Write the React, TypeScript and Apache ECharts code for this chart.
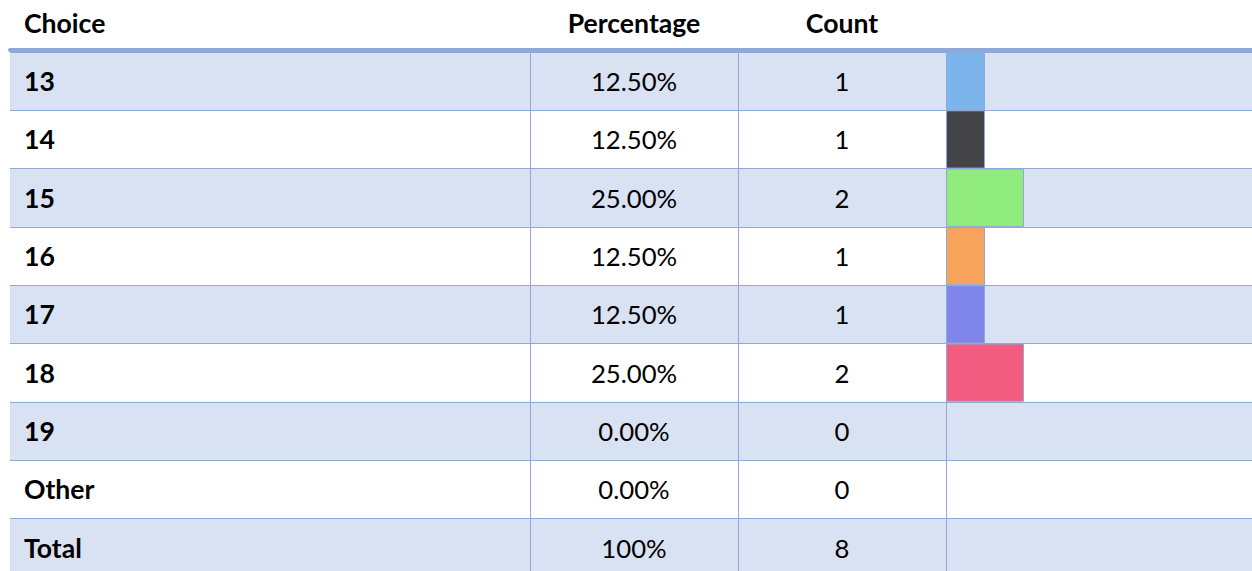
import React, { useEffect, useRef } from "react";
import * as echarts from "echarts";

const choices = ["13", "14", "15", "16", "17", "18", "19", "Other", "Total"];
const percentLabels = ["12.50%", "12.50%", "25.00%", "12.50%", "12.50%", "25.00%", "0.00%", "0.00%", "100%"];
const counts = [1, 1, 2, 1, 1, 2, 0, 0, 8];
const headers = ["Choice", "Percentage", "Count"];
const barColors = ["#7cb5ec", "#434348", "#90ed7d", "#f7a35c", "#8085e9", "#f15c80", "#e4d354", "#2b908f"];

const LINE = "#8eaadb";
const FILL = "#d9e2f3";
const FONT = "Lato, 'Noto Sans', sans-serif";
const FS = 25.7;
const FSB = 26.6;

export default function App() {
  const ref = useRef<HTMLDivElement>(null);
  useEffect(() => {
    if (!ref.current) return;
    const chart = echarts.init(ref.current, null, { renderer: "svg" });
    const total = counts[counts.length - 1];
    const barData = counts.map((c, i) =>
      choices[i] === "Total"
        ? null
        : {
            value: (c / total) * 100,
            itemStyle: {
              color: barColors[i % barColors.length],
              borderWidth: c === 0 ? 0 : 1,
            },
          }
    );
    const top = 52;
    const height = 524.7;
    chart.setOption({
      animation: false,
      backgroundColor: "#ffffff",
      grid: [
        { left: 10, width: 1242, top, height, outerBoundsMode: "none", containLabel: false },
        { left: 946, width: 312, top, height, outerBoundsMode: "none", containLabel: false },
      ],
      xAxis: [
        {
          gridIndex: 0,
          type: "value",
          min: 0,
          max: 1242,
          position: "top",
          offset: 2,
          axisLine: { show: true, lineStyle: { color: LINE, width: 4 } },
          axisTick: { show: false },
          axisLabel: { show: false },
          splitLine: { show: false },
        },
        {
          gridIndex: 1,
          type: "value",
          min: 0,
          max: 100,
          show: false,
        },
      ],
      yAxis: [
        {
          gridIndex: 0,
          type: "category",
          data: choices,
          inverse: true,
          axisLine: { show: false },
          axisTick: { show: false },
          axisLabel: { show: false },
          splitLine: { show: true, lineStyle: { color: LINE, width: 1 } },
          splitArea: { show: true, areaStyle: { color: [FILL, "#ffffff"] } },
        },
        {
          gridIndex: 1,
          type: "category",
          data: choices,
          inverse: true,
          axisLine: { show: false },
          axisTick: { show: false },
          splitLine: { show: false },
          axisLabel: {
            show: true,
            margin: 0,
            formatter: (v: string, i: number) =>
              `{c|${v}}{p|${percentLabels[i]}}{n|${counts[i]}}`,
            rich: {
              c: {
                width: 506,
                padding: [0, 0, 0, 14],
                align: "left",
                fontFamily: FONT,
                fontSize: FSB,
                fontWeight: "bold",
                color: "#000",
              },
              p: { width: 208, align: "center", fontFamily: FONT, fontSize: FS, color: "#000" },
              n: { width: 208, align: "center", fontFamily: FONT, fontSize: FS, color: "#000" },
            },
          },
        },
      ],
      graphic: [
        {
          type: "text",
          x: 24,
          y: 23,
          style: { text: headers[0], font: `bold ${FSB}px ${FONT}`, fill: "#000", align: "left", verticalAlign: "middle" },
        },
        {
          type: "text",
          x: 634,
          y: 23,
          style: { text: headers[1], font: `bold ${FSB}px ${FONT}`, fill: "#000", align: "center", verticalAlign: "middle" },
        },
        {
          type: "text",
          x: 842,
          y: 23,
          style: { text: headers[2], font: `bold ${FSB}px ${FONT}`, fill: "#000", align: "center", verticalAlign: "middle" },
        },
      ],
      series: [
        {
          type: "line",
          xAxisIndex: 0,
          yAxisIndex: 0,
          data: [],
          silent: true,
          markLine: {
            silent: true,
            symbol: "none",
            label: { show: false },
            lineStyle: { color: LINE, width: 1, type: "solid" },
            data: [{ xAxis: 520 }, { xAxis: 728 }, { xAxis: 936 }],
          },
        },
        {
          type: "bar",
          xAxisIndex: 1,
          yAxisIndex: 1,
          data: barData,
          barWidth: "100%",
          itemStyle: { borderColor: LINE, borderWidth: 1 },
          silent: true,
        },
      ],
    });
    return () => chart.dispose();
  }, []);
  return (
    <div
      ref={ref}
      style={{ position: "fixed", left: 0, top: 0, width: 1252, height: 571 }}
    />
  );
}
